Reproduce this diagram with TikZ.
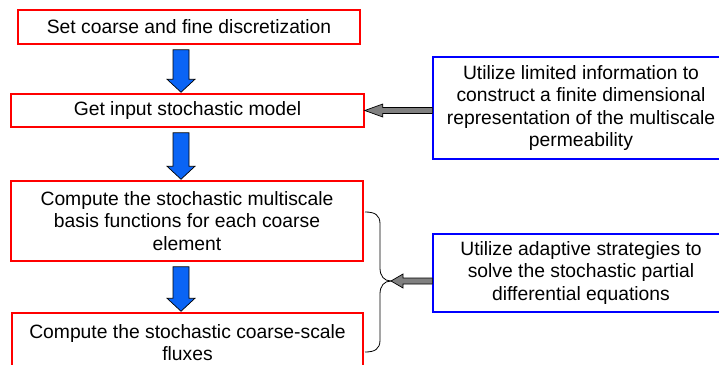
\documentclass[tikz,border=0pt]{standalone}
\usepackage{fontspec}
\setmainfont{Liberation Sans}
\usetikzlibrary{calc}

\definecolor{flowblue}{RGB}{10,100,245}
\definecolor{pointergray}{RGB}{128,128,128}

\tikzset{
  stepbox/.style={draw=red, line width=1.5pt, align=center, inner sep=0pt},
  notebox/.style={draw=blue, line width=1.3pt, align=center, inner sep=0pt},
  downarrow/.style={draw=black, line width=0.7pt, fill=flowblue, line join=miter},
  pointer/.style={draw=black, line width=0.7pt, fill=pointergray, line join=miter},
  bracket/.style={draw=black, line width=0.8pt},
}

% block arrow pointing down from the bottom of one box to the top of the next
\newcommand\flowarrow[2]{%
  \draw[downarrow] let \p1=(#1.south), \p2=(#2.north) in
    (173pt,\y1-5pt) -- (189pt,\y1-5pt) -- (189pt,\y2+14pt) -- (195pt,\y2+14pt)
    -- (181pt,\y2+1pt) -- (167pt,\y2+14pt) -- (173pt,\y2+14pt) -- cycle;}

% block arrow pointing left: #1 source box, #2 target point, #3 head length, #4 head half width
\newcommand\sidearrow[4]{%
  \draw[pointer] let \p1=(#1.west), \p2=(#2) in
    (\x1,\y2-3pt) -- (\x2+#3,\y2-3pt) -- (\x2+#3,\y2-#4) -- (\x2,\y2)
    -- (\x2+#3,\y2+#4) -- (\x2+#3,\y2+3pt) -- (\x1,\y2+3pt) -- cycle;}

\begin{document}
\begin{tikzpicture}[x=1pt, y=-1pt, font=\fontsize{19.3}{22.5}\selectfont]
  \path[use as bounding box, clip] (0,0) rectangle (719,364);

  % main sequence of steps
  \node[stepbox, minimum width=342pt, minimum height=34pt] (set) at (189,27)
    {Set coarse and fine discretization};
  \node[stepbox, minimum width=353pt, minimum height=33pt] (input) at (187.5,110.5)
    {Get input stochastic model};
  \node[stepbox, minimum width=352pt, minimum height=80pt] (basis) at (187,221)
    {Compute the stochastic multiscale\\basis functions for each coarse\\element};
  \node[stepbox, minimum width=351pt, minimum height=59pt] (flux) at (187.5,342.5)
    {Compute the stochastic coarse-scale\\fluxes};

  % side notes
  \node[notebox, minimum width=296pt, minimum height=102pt] (limited) at (581,108)
    {Utilize limited information to\\construct a finite dimensional\\representation of the multiscale\\permeability};
  \node[notebox, minimum width=296pt, minimum height=78pt] (adaptive) at (581,273)
    {Utilize adaptive strategies to\\solve the stochastic partial\\differential equations};

  % flow arrows
  \flowarrow{set}{input}
  \flowarrow{input}{basis}
  \flowarrow{basis}{flux}

  % curly bracket grouping the last two steps
  \coordinate (bracetip) at (391,281);
  \draw[bracket] (365,212) .. controls (375,212) and (380,215) .. (380,224)
    -- (380,268) .. controls (380,276) and (384,281) .. (bracetip)
    .. controls (384,281) and (380,286) .. (380,294)
    -- (380,340) .. controls (380,349) and (375,352) .. (365,352);

  % pointers from the notes
  \sidearrow{limited}{input.east}{18pt}{6.5pt}
  \sidearrow{adaptive}{bracetip}{12pt}{7pt}
\end{tikzpicture}
\end{document}
